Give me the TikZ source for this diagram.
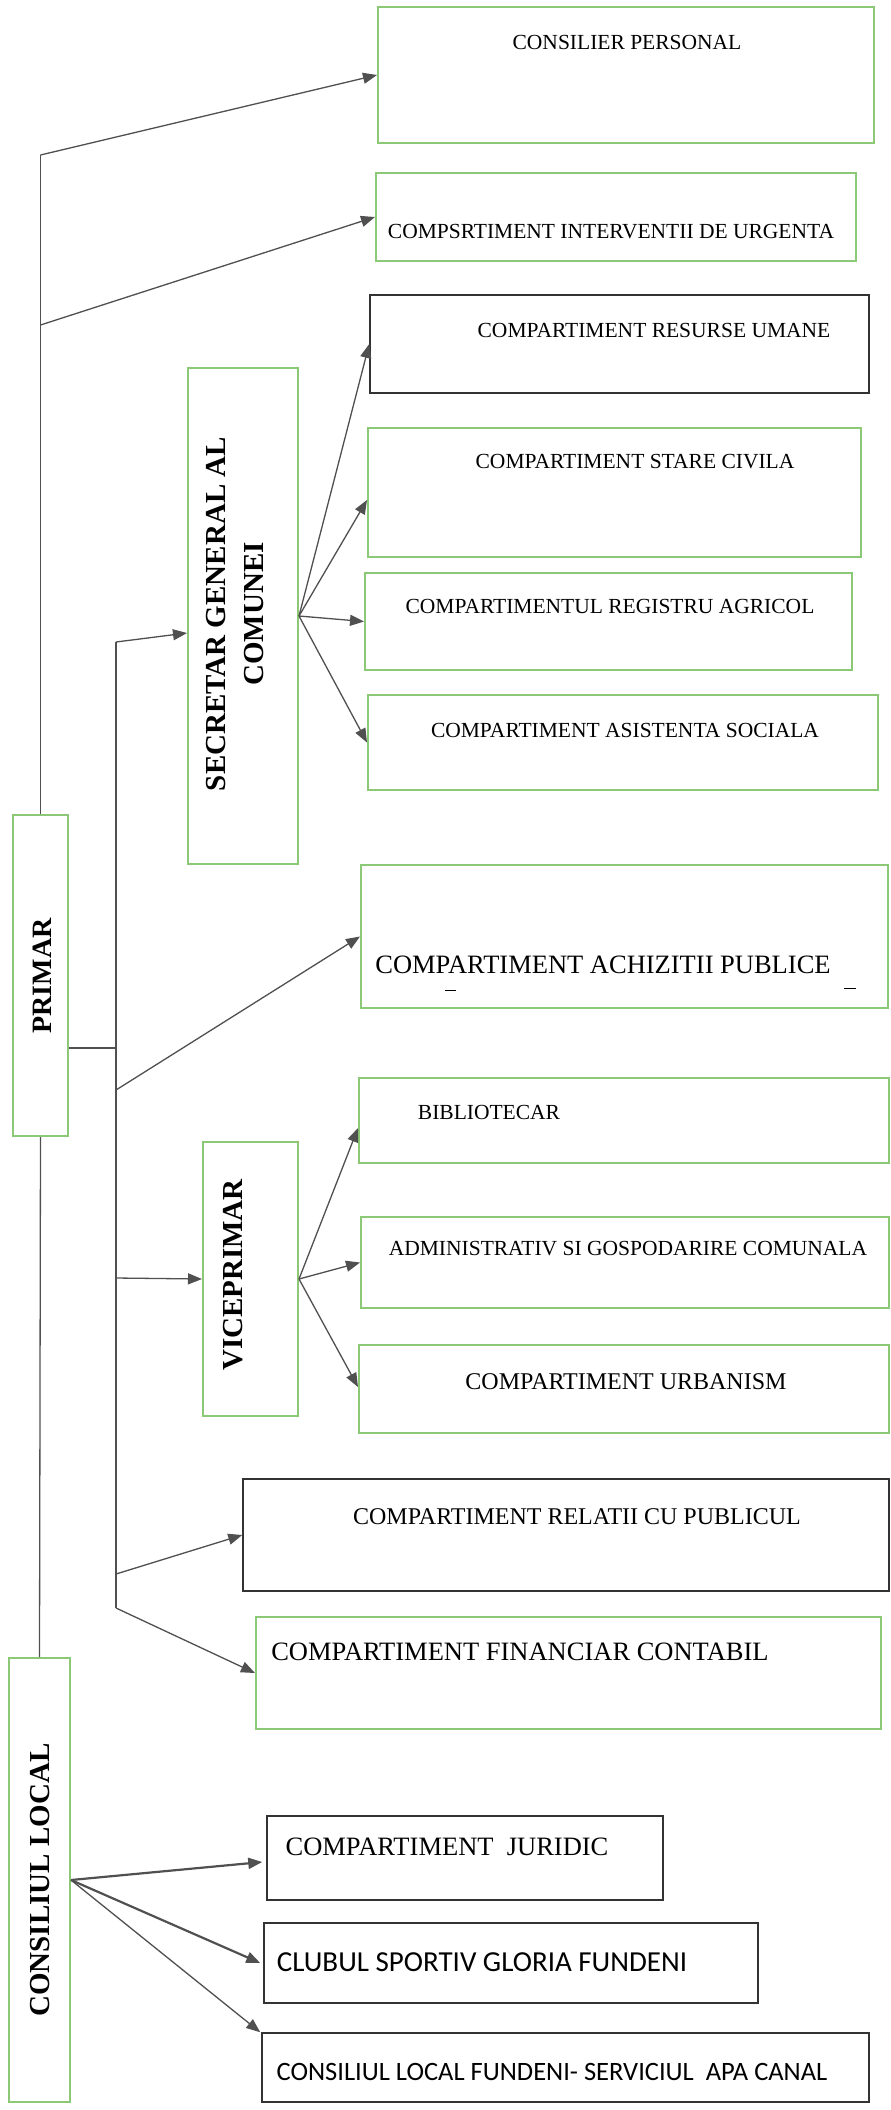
\documentclass[tikz,border=0pt]{standalone}
\usepackage{fontspec}
\setmainfont{Liberation Serif}
\newfontfamily\calibri{Carlito}
\usetikzlibrary{fit,calc,arrows.meta}
\definecolor{boxgreen}{HTML}{8CC976}
\definecolor{linegray}{HTML}{505050}

\begin{document}
\begin{tikzpicture}[x=1pt, y=-1pt,
    gbox/.style={draw=boxgreen, line width=2pt, inner sep=0pt},
    kbox/.style={draw=black!80, line width=1.5pt, inner sep=0pt},
    txt/.style={inner sep=0pt, font=\fontsize{21.5}{25}\selectfont},
    midtxt/.style={inner sep=0pt, font=\fontsize{24}{28}\selectfont},
    bigtxt/.style={inner sep=0pt, font=\fontsize{26.5}{31}\selectfont},
    caltxt/.style={inner sep=0pt, font=\calibri\fontsize{26.5}{31}\selectfont},
    vtxt/.style={inner sep=0pt, rotate=90, align=center, font=\bfseries\fontsize{29}{38}\selectfont},
    conn/.style={draw=linegray, line width=1.3pt},
    arr/.style={conn, -{Triangle[length=14pt,width=11pt]}}]
    \fill[white] (0,0) rectangle (891,2110);

    \node[gbox, fit={(378,7) (874,143)}] (cp) {};
    \node[gbox, fit={(376,173) (856,261)}] (ciu) {};
    \node[kbox, fit={(370,295) (869,393)}] (cru) {};
    \node[gbox, fit={(368,428) (861,557)}] (csc) {};
    \node[gbox, fit={(365,573) (852,670)}] (cra) {};
    \node[gbox, fit={(368,695) (878,790)}] (cas) {};
    \node[gbox, fit={(188,368) (298,864)}] (sec) {};
    \node[gbox, fit={(361,865) (888,1008)}] (cap) {};
    \node[gbox, fit={(359,1078) (889,1163)}] (bib) {};
    \node[gbox, fit={(361,1217) (889,1308)}] (adm) {};
    \node[gbox, fit={(359,1345) (889,1433)}] (urb) {};
    \node[gbox, fit={(203,1142) (298,1416)}] (vice) {};
    \node[kbox, fit={(243,1479) (889,1591)}] (crp) {};
    \node[gbox, fit={(256,1617) (881,1729)}] (cfc) {};
    \node[gbox, fit={(13,815) (68,1136)}] (primar) {};
    \node[gbox, fit={(9,1658) (70,2102)}] (cl) {};
    \node[kbox, fit={(267,1816) (663,1900)}] (cj) {};
    \node[kbox, fit={(264,1923) (758,2003)}] (csg) {};
    \node[kbox, fit={(262,2033) (869,2102)}] (cla) {};

    \node[txt] (cpt) at (627,42) {CONSILIER PERSONAL};
    \node[txt] (ciut) at (611,232) {COMPSRTIMENT INTERVENTII DE URGENTA};
    \node[txt] (crut) at (654,330) {COMPARTIMENT RESURSE UMANE};
    \node[txt] (csct) at (635,462) {COMPARTIMENT STARE CIVILA};
    \node[txt] (crat) at (610,606) {COMPARTIMENTUL REGISTRU AGRICOL};
    \node[txt] (cast) at (625,730) {COMPARTIMENT ASISTENTA SOCIALA};
    \node[bigtxt] (capt) at (603,965) {COMPARTIMENT ACHIZITII PUBLICE};
    \node[txt] (bibt) at (489,1112) {BIBLIOTECAR};
    \node[txt] (admt) at (628,1249) {ADMINISTRATIV SI GOSPODARIRE COMUNALA};
    \node[midtxt] (urbt) at (626,1382) {COMPARTIMENT URBANISM};
    \node[midtxt] (crpt) at (577,1517) {COMPARTIMENT RELATII CU PUBLICUL};
    \node[bigtxt] (cfct) at (520,1652) {COMPARTIMENT FINANCIAR CONTABIL};
    \node[bigtxt] (cjt) at (447,1847) {COMPARTIMENT\ \ JURIDIC};
    \node[caltxt, font=\calibri\fontsize{29}{34}\selectfont] (csgt) at (482,1962) {CLUBUL SPORTIV GLORIA FUNDENI};
    \node[caltxt] (clat) at (552,2072) {CONSILIUL LOCAL FUNDENI- SERVICIUL\ \ APA CANAL};

    \node[vtxt] (sect) at (235,614) {SECRETAR GENERAL AL\\COMUNEI};
    \node[vtxt] (vicet) at (233,1275) {VICEPRIMAR};
    \node[vtxt, font=\bfseries\fontsize{28}{34}\selectfont] (primart) at (42,976) {PRIMAR};
    \node[vtxt] (clt) at (40,1880) {CONSILIUL LOCAL};

    \draw[black, line width=1pt] (445,990) -- (456,990);
    \draw[black, line width=1pt] (844,988) -- (856,988);

    \coordinate (ptop) at (primar.north |- 0,155);
    \coordinate (pmid) at (primar.north |- 0,325);
    \coordinate (bustop) at (116,642);
    \coordinate (busbot) at (116,1608);
    \draw[conn] (primar.north) -- (ptop);
    \draw[arr] (ptop) -- (cp.west);
    \draw[arr] (pmid) -- (ciu.west);
    \draw[conn] (primar.south) -- (cl.north);
    \draw[conn] (primar.east |- 0,1048) -- (bustop |- 0,1048);
    \draw[conn] (bustop) -- (busbot);
    \draw[arr] (bustop) -- (sec.west |- 0,633);
    \draw[arr] (bustop |- 0,1090) -- (cap.west);
    \draw[arr] (bustop |- 0,1278) -- (vice.west);
    \draw[arr] (bustop |- 0,1574) -- (crp.west);
    \draw[arr] (busbot) -- (cfc.west);

    \draw[arr] (sec.east) -- (cru.west);
    \draw[arr] (sec.east) -- (csc.west |- 0,500);
    \draw[arr] (sec.east) -- (cra.west);
    \draw[arr] (sec.east) -- (cas.west);

    \draw[arr] (vice.east) -- (bib.west |- 0,1128);
    \draw[arr] (vice.east) -- (adm.west);
    \draw[arr] (vice.east) -- (urb.west |- 0,1387);

    \draw[arr, line width=2.2pt] (cl.east) -- ($(cj.west)+(-4,4)$);
    \draw[arr, line width=2.2pt] (cl.east) -- ($(csg.west)+(-3,0)$);
    \draw[arr] (cl.east) -- ($(cla.north west)+(-1,0)$);
\end{tikzpicture}
\end{document}
